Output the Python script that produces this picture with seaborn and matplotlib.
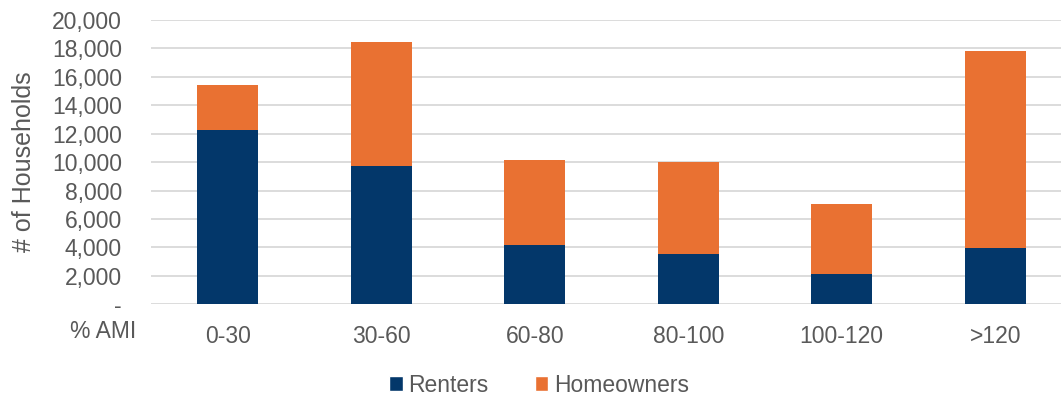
import matplotlib
matplotlib.use("Agg")
import matplotlib.pyplot as plt
from matplotlib.patches import Patch
from matplotlib.ticker import FixedLocator, FuncFormatter
import numpy as np
import pandas as pd
import seaborn as sns

# Households by area median income band
ami_bands = ["0-30", "30-60", "60-80", "80-100", "100-120", ">120"]
renters = [12260, 9750, 4170, 3540, 2130, 3960]
homeowners = [3190, 8720, 5960, 6490, 4930, 13860]

navy = "#03376A"
orange = "#E97132"
text_gray = "#595959"
grid_gray = "#D9D9D9"

sns.set_theme(style="white")
plt.rcParams["font.family"] = ["Liberation Sans", "DejaVu Sans"]

df = pd.DataFrame({"band": ami_bands, "Renters": renters, "Homeowners": homeowners})
df["Total"] = df["Renters"] + df["Homeowners"]

W, H = 1061, 397
fig = plt.figure(figsize=(W / 100, H / 100), dpi=100)
ax = fig.add_axes([151 / W, 1 - 304.3 / H, 921 / W, (304.3 - 20) / H])

# Stacked bars: full height in orange, renters drawn over the lower part
sns.barplot(data=df, x="band", y="Total", color=orange, width=0.4,
            saturation=1, ax=ax, zorder=3, linewidth=0)
sns.barplot(data=df, x="band", y="Renters", color=navy, width=0.4,
            saturation=1, ax=ax, zorder=4, linewidth=0)

ax.set_ylim(0, 20000)
ax.yaxis.set_major_locator(FixedLocator(np.arange(0, 20001, 2000)))
ax.yaxis.set_major_formatter(
    FuncFormatter(lambda v, _: "-" if v == 0 else f"{int(v):,}"))
ax.grid(axis="y", color=grid_gray, linewidth=1.3, zorder=0)
ax.grid(axis="x", visible=False)
for s in ax.spines.values():
    s.set_visible(False)

ax.tick_params(axis="y", length=0, pad=21, labelsize=16.5, labelcolor=text_gray)
ax.tick_params(axis="x", length=0, pad=15, labelsize=16.5, labelcolor=text_gray)
ax.set_xlabel("")
ax.set_ylabel("")

fig.text(24 / W, 1 - 161.5 / H, "# of Households", rotation=90,
         ha="center", va="center", fontsize=18, color=text_gray)
fig.text(136 / W, 1 - 338 / H, "% AMI", ha="right", va="baseline",
         fontsize=16.5, color=text_gray)

handles = [Patch(facecolor=navy, label="Renters"),
           Patch(facecolor=orange, label="Homeowners")]
fig.legend(handles=handles, loc="center", bbox_to_anchor=(539 / W, 1 - 385 / H),
           ncol=2, frameon=False, fontsize=16.5, handlelength=0.6, handleheight=0.6,
           handletextpad=0.25, columnspacing=2.0, labelcolor=text_gray)

fig.savefig("out.png", dpi=100)
